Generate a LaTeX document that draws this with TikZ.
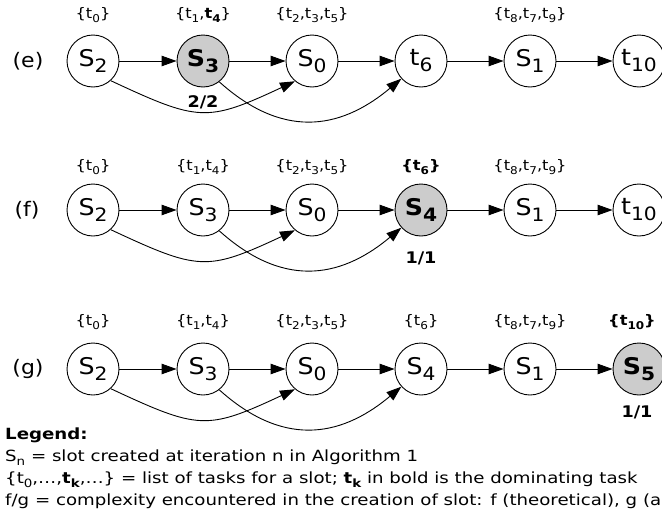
\documentclass[tikz,border=0pt]{standalone}
\usepackage{fontspec}
\setmainfont{DejaVu Sans}
\newfontfamily\legfont{DejaVu Sans}[FakeStretch=1.18]
\newfontfamily\lblfont{DejaVu Sans}[FakeStretch=1.12]
\newfontfamily\midfont{DejaVu Sans}[FakeStretch=1.1]
\usepackage{graphicx}
\usetikzlibrary{arrows.meta}
\newcommand\sbs[1]{\raisebox{-0.28em}{\scalebox{0.74}{#1}}}
\newcommand\nsb[1]{\raisebox{-0.26em}{\scalebox{0.8}{#1}}}
\tikzset{
  st/.style={circle, draw, line width=0.9pt, minimum size=52pt, inner sep=0pt, font=\midfont\fontsize{23}{25}\selectfont},
  hl/.style={st, fill=black!20},
  lbl/.style={inner sep=0pt, font=\lblfont\fontsize{14.5}{17}\selectfont},
  cx/.style={inner sep=0pt, font=\midfont\bfseries\fontsize{16}{18}\selectfont},
  rowl/.style={inner sep=0pt, font=\midfont\fontsize{20}{22}\selectfont},
  ed/.style={line width=0.9pt, -{Triangle[length=15pt,width=10.5pt]}},
  leg/.style={anchor=base west, inner sep=0pt, font=\legfont\fontsize{15.4}{17}\selectfont},
}
\begin{document}
\begin{tikzpicture}[x=1pt,y=1pt]
\useasboundingbox (0,0) rectangle (662,-517);
% ---------------- row (e)
\node[rowl] (re) at (28,-61) {(e)};
\node[st] (eS2) at (93,-61) {S\nsb{2}};
\node[hl] (eS3) at (203,-61) {\textbf{S\nsb{3}}};
\node[st] (eS0) at (312,-61) {S\nsb{0}};
\node[st] (et6) at (421,-61) {t\nsb{6}};
\node[st] (eS1) at (530,-61) {S\nsb{1}};
\node[st] (et10) at (639,-61) {t\nsb{10}};
\node[lbl] (eL2) at (93,-15) {\{t\sbs{0}\}};
\node[lbl] (eL3) at (203,-15) {\{t\sbs{1},\textbf{t\sbs{4}}\}};
\node[lbl] (eL0) at (312,-15) {\{t\sbs{2},t\sbs{3},t\sbs{5}\}};
\node[lbl] (eL1) at (530,-15) {\{t\sbs{8},t\sbs{7},t\sbs{9}\}};
\node[cx] (eC) at (203,-102) {2/2};
\draw[ed] (eS2) -- (eS3);
\draw[ed] (eS3) -- (eS0);
\draw[ed] (eS0) -- (et6);
\draw[ed] (et6) -- (eS1);
\draw[ed] (eS1) -- (et10);
\draw[ed] (eS2.-48) to[out=-25,in=-155,looseness=1.35] (eS0.-130);
\draw[ed] (eS3.-52) to[out=-42,in=-140,looseness=1.16] (et6.-138);
% ---------------- row (f)
\node[rowl] (rf) at (27,-210) {(f)};
\node[st] (fS2) at (93,-210) {S\nsb{2}};
\node[st] (fS3) at (203,-210) {S\nsb{3}};
\node[st] (fS0) at (312,-210) {S\nsb{0}};
\node[hl] (fS4) at (421,-210) {\textbf{S\nsb{4}}};
\node[st] (fS1) at (530,-210) {S\nsb{1}};
\node[st] (ft10) at (639,-210) {t\nsb{10}};
\node[lbl] (fL2) at (93,-167) {\{t\sbs{0}\}};
\node[lbl] (fL3) at (203,-167) {\{t\sbs{1},t\sbs{4}\}};
\node[lbl] (fL0) at (312,-167) {\{t\sbs{2},t\sbs{3},t\sbs{5}\}};
\node[lbl] (fL4) at (421,-167) {\textbf{\{t\sbs{6}\}}};
\node[lbl] (fL1) at (530,-167) {\{t\sbs{8},t\sbs{7},t\sbs{9}\}};
\node[cx] (fC) at (421,-258) {1/1};
\draw[ed] (fS2) -- (fS3);
\draw[ed] (fS3) -- (fS0);
\draw[ed] (fS0) -- (fS4);
\draw[ed] (fS4) -- (fS1);
\draw[ed] (fS1) -- (ft10);
\draw[ed] (fS2.-48) to[out=-25,in=-155,looseness=1.35] (fS0.-130);
\draw[ed] (fS3.-52) to[out=-42,in=-140,looseness=1.16] (fS4.-138);
% ---------------- row (g)
\node[rowl] (rg) at (28,-369) {(g)};
\node[st] (gS2) at (93,-369) {S\nsb{2}};
\node[st] (gS3) at (203,-369) {S\nsb{3}};
\node[st] (gS0) at (312,-369) {S\nsb{0}};
\node[st] (gS4) at (421,-369) {S\nsb{4}};
\node[st] (gS1) at (530,-369) {S\nsb{1}};
\node[hl] (gS5) at (639,-369) {\textbf{S\nsb{5}}};
\node[lbl] (gL2) at (93,-322) {\{t\sbs{0}\}};
\node[lbl] (gL3) at (203,-322) {\{t\sbs{1},t\sbs{4}\}};
\node[lbl] (gL0) at (312,-322) {\{t\sbs{2},t\sbs{3},t\sbs{5}\}};
\node[lbl] (gL4) at (421,-322) {\{t\sbs{6}\}};
\node[lbl] (gL1) at (530,-322) {\{t\sbs{8},t\sbs{7},t\sbs{9}\}};
\node[lbl] (gL5) at (632,-322) {\textbf{\{t\sbs{10}\}}};
\node[cx] (gC) at (637,-412) {1/1};
\draw[ed] (gS2) -- (gS3);
\draw[ed] (gS3) -- (gS0);
\draw[ed] (gS0) -- (gS4);
\draw[ed] (gS4) -- (gS1);
\draw[ed] (gS1) -- (gS5);
\draw[ed] (gS2.-48) to[out=-25,in=-155,looseness=1.35] (gS0.-130);
\draw[ed] (gS3.-52) to[out=-42,in=-140,looseness=1.16] (gS4.-138);
% ---------------- legend
\node[leg, font=\legfont\bfseries\fontsize{15.4}{17}\selectfont] (lg0) at (5,-439) {Legend:};
\node[leg] (lg1) at (5,-461.5) {S\sbs{n} = slot created at iteration n in Algorithm 1};
\node[leg] (lg2) at (5,-483.5) {\{t\sbs{0},…,\textbf{t\sbs{k}},…\} = list of tasks for a slot; \textbf{t\sbs{k}} in bold is the dominating task};
\node[leg] (lg3) at (5,-505.5) {f/g = complexity encountered in the creation of slot: f (theoretical), g (a};
\end{tikzpicture}
\end{document}
